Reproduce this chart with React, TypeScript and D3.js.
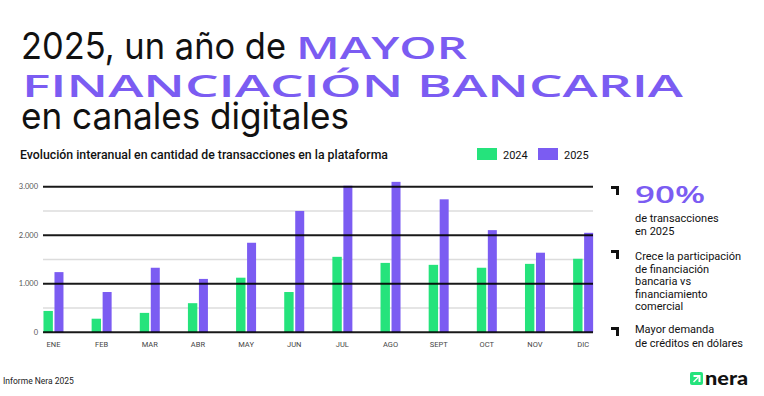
import React from 'react';
import * as d3 from 'd3';

const months = ['ENE', 'FEB', 'MAR', 'ABR', 'MAY', 'JUN', 'JUL', 'AGO', 'SEPT', 'OCT', 'NOV', 'DIC'];
const values2024 = [440, 280, 400, 600, 1125, 830, 1555, 1430, 1390, 1330, 1410, 1515];
const values2025 = [1240, 830, 1330, 1100, 1845, 2500, 3020, 3100, 2740, 2105, 1640, 2050];
const majorTicks = [0, 1000, 2000, 3000];
const minorTicks = [500, 1500, 2500];
const tickLabels = ['0', '1.000', '2.000', '3.000'];
const seriesNames = ['2024', '2025'];

const GREEN = '#25e37c';
const PURPLE = '#7b5cf2';
const BODY = 'Roboto, "Noto Sans", sans-serif';
const TITLE = 'Inter, "Noto Sans", sans-serif';
const WIDE = '"Open Sans", "DejaVu Sans", sans-serif';

const Bracket = ({ x, y }: { x: number; y: number }) => (
  <path d={`M${x},${y} h8 v9 h-3 v-6 h-5 z`} fill="#111" />
);

const App = () => {
  const y = d3.scaleLinear().domain([0, 3000]).range([332.3, 186.7]);
  const x = d3.scaleBand().domain(months).range([29.4, 607.2]).padding(0);
  const bw = x.bandwidth();
  const gx0 = 43;
  const gx1 = 593;

  return (
    <svg width={764} height={396} style={{ position: 'absolute', left: 0, top: 0, background: '#fff' }}>
      {/* title */}
      <text x={21} y={59} fontFamily={TITLE} fontSize={37} fill="#111" textLength={265} lengthAdjust="spacingAndGlyphs">2025, un año de</text>
      <text x={296} y={59} fontFamily={WIDE} fontSize={30} fontWeight={600} fill={PURPLE} textLength={171} lengthAdjust="spacingAndGlyphs">MAYOR</text>
      <text x={22} y={97} fontFamily={WIDE} fontSize={30} fontWeight={600} fill={PURPLE} textLength={661} lengthAdjust="spacingAndGlyphs">FINANCIACIÓN BANCARIA</text>
      <text x={21} y={129} fontFamily={TITLE} fontSize={37} fill="#111" textLength={328} lengthAdjust="spacingAndGlyphs">en canales digitales</text>

      <text x={20} y={159} fontFamily={BODY} fontSize={12.5} fontWeight={500} fill="#111" textLength={368} lengthAdjust="spacingAndGlyphs">Evolución interanual en cantidad de transacciones en la plataforma</text>

      {/* legend */}
      {seriesNames.map((s, i) => (
        <g key={s} transform={`translate(${477 + i * 61},148)`}>
          <rect width={20} height={12} fill={i === 0 ? GREEN : PURPLE} />
          <text x={26} y={11} fontFamily={BODY} fontSize={11} fill="#111">{s}</text>
        </g>
      ))}

      {/* minor grid */}
      {minorTicks.map(t => (
        <line key={t} x1={gx0} x2={gx1} y1={y(t)} y2={y(t)} stroke="#dcdcdc" strokeWidth={1.5} />
      ))}

      {/* bars */}
      {months.map((m, i) => {
        const c = (x(m) as number) + bw / 2;
        return (
          <g key={m}>
            <rect x={c - 10} y={y(values2024[i])} width={9.4} height={y(0) - y(values2024[i])} fill={GREEN} />
            <rect x={c + 1} y={y(values2025[i])} width={9} height={y(0) - y(values2025[i])} fill={PURPLE} />
            <text x={c} y={347} textAnchor="middle" fontFamily={BODY} fontSize={7.5} fill="#444">{m}</text>
          </g>
        );
      })}

      {/* major grid on top */}
      {majorTicks.map((t, i) => (
        <g key={t}>
          <line x1={gx0} x2={gx1} y1={y(t)} y2={y(t)} stroke="#000" strokeOpacity={0.9} strokeWidth={2} />
          <text x={38} y={y(t) + 2.5} textAnchor="end" fontFamily="Lato, sans-serif" fontSize={7.5} fill="#555">{tickLabels[i]}</text>
        </g>
      ))}

      {/* right panel */}
      <Bracket x={611} y={186} />
      <text x={635} y={203} fontFamily={WIDE} fontSize={23} fontWeight={600} fill={PURPLE} textLength={70} lengthAdjust="spacingAndGlyphs">90%</text>
      <text fontFamily={BODY} fontSize={11} fill="#111">
        <tspan x={635} y={222}>de transacciones</tspan>
        <tspan x={635} y={235}>en 2025</tspan>
      </text>

      <Bracket x={611} y={250} />
      <text fontFamily={BODY} fontSize={11} fill="#111">
        <tspan x={635} y={260}>Crece la participación</tspan>
        <tspan x={635} y={272.5}>de financiación</tspan>
        <tspan x={635} y={285}>bancaria vs</tspan>
        <tspan x={635} y={297.5}>financiamiento</tspan>
        <tspan x={635} y={310}>comercial</tspan>
      </text>

      <Bracket x={611} y={327} />
      <text fontFamily={BODY} fontSize={11} fill="#111">
        <tspan x={635} y={333}>Mayor demanda</tspan>
        <tspan x={635} y={347}>de créditos en dólares</tspan>
      </text>

      {/* footer */}
      <text x={3} y={384} fontFamily={BODY} fontSize={8.5} fill="#222">Informe Nera 2025</text>
      <g transform="translate(690,372)">
        <rect width={13} height={13} rx={2} fill={GREEN} />
        <path d="M3.5,4 h6 v6" fill="none" stroke="#fff" strokeWidth={2} />
        <path d="M3.5,10 l5,-5" fill="none" stroke="#fff" strokeWidth={1.5} />
      </g>
      <text x={705} y={385} fontFamily="Lato, sans-serif" fontWeight={900} fontSize={18} fill="#111" textLength={43} lengthAdjust="spacingAndGlyphs">nera</text>
    </svg>
  );
};

export default App;
